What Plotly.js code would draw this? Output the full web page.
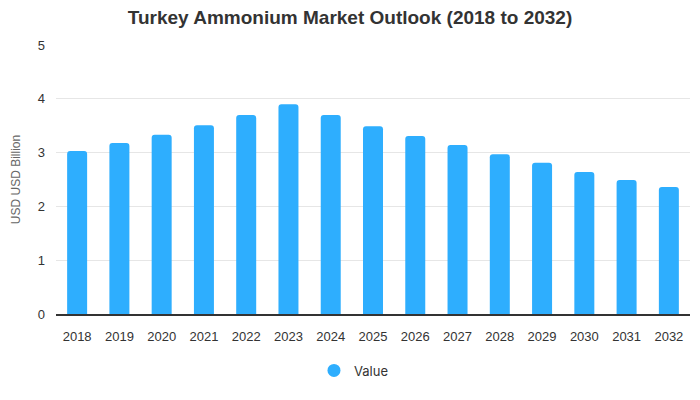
<!DOCTYPE html>
<html>
<head>
<meta charset="utf-8">
<script src="https://cdn.plot.ly/plotly-3.0.1.min.js"></script>
<style>html,body{margin:0;padding:0;background:#fff;}#chart{width:700px;height:400px;}</style>
</head>
<body>
<div id="chart"></div>
<script>
const years = ["2018","2019","2020","2021","2022","2023","2024","2025","2026","2027","2028","2029","2030","2031","2032"];
const values = [3.03,3.18,3.33,3.51,3.70,3.90,3.70,3.49,3.31,3.14,2.97,2.81,2.64,2.49,2.36];
const seriesName = "Value";
const color = "#2eaefe";

const traces = [
  {type:"bar", x:years, y:values, name:seriesName, showlegend:false,
   marker:{color:color, cornerradius:3}, hoverinfo:"x+y"},
  {type:"scatter", mode:"markers", x:[null], y:[null], name:seriesName,
   marker:{color:color, size:13, symbol:"circle"}, showlegend:true}
];

const layout = {
  width:700, height:400,
  margin:{l:56, r:10, t:45, b:86},
  paper_bgcolor:"#fff", plot_bgcolor:"#fff",
  title:{text:"Turkey Ammonium Market Outlook (2018 to 2032)", x:0.5, xanchor:"center", y:0.957, yanchor:"middle",
    font:{family:"Liberation Sans, Arial, sans-serif", size:19, color:"#333", weight:"bold"}},
  bargap:0.527,
  xaxis:{type:"category", showgrid:false, showline:true, linecolor:"#333", linewidth:1.5,
    ticks:"", ticklabelstandoff:10, tickfont:{family:"Liberation Sans, Arial, sans-serif", size:13, color:"#333"}, fixedrange:true},
  yaxis:{range:[0,5], dtick:1, tick0:0, showgrid:true, gridcolor:"#e6e6e6", gridwidth:1, zeroline:false,
    ticks:"", ticklabelstandoff:10, tickfont:{family:"Liberation Sans, Arial, sans-serif", size:13, color:"#333"},
    title:{text:"USD USD Billion", standoff:14, font:{family:"Liberation Sans, Arial, sans-serif", size:12, color:"#666"}}},
  showlegend:true,
  legend:{orientation:"h", x:0.47, xanchor:"center", y:-0.21, yanchor:"middle", itemwidth:30,
    font:{family:"Inter, Liberation Sans, sans-serif", size:13, color:"#333"}},
};
Plotly.newPlot("chart", traces, layout, {displayModeBar:false, staticPlot:true});
</script>
</body>
</html>
